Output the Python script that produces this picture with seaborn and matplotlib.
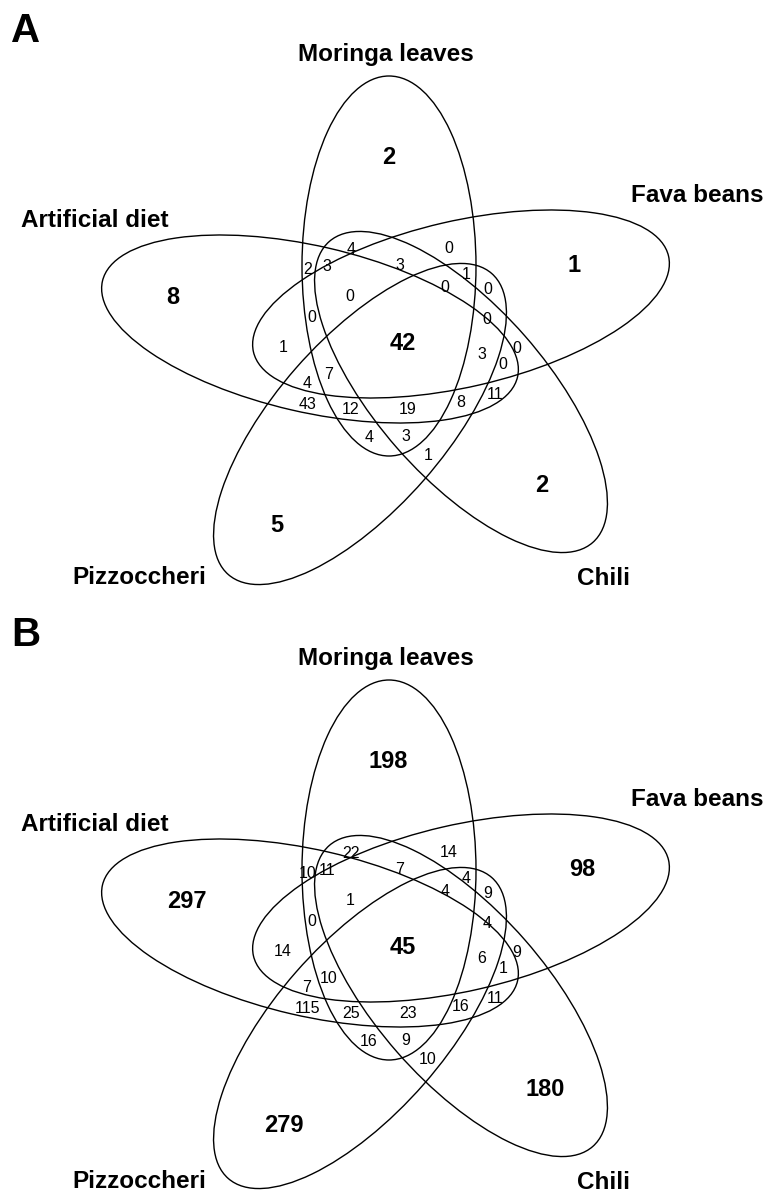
import numpy as np
import pandas as pd
import matplotlib
matplotlib.use("Agg")
import matplotlib.pyplot as plt
import seaborn as sns
from matplotlib.patches import Ellipse

sets = ["Moringa leaves", "Fava beans", "Chili", "Pizzoccheri", "Artificial diet"]

# counts unique to each set
only_a = [2, 1, 2, 5, 8]
only_b = [198, 98, 180, 279, 297]
# shared by all five
core_a = 42
core_b = 45
# the other overlaps, read top to bottom
shared_a = [4, 0, 2, 3, 3, 1, 0, 0, 0, 0, 0, 1, 3, 0, 0, 4, 7, 43, 12, 19, 8, 11, 4, 3, 1]
shared_b = [22, 14, 10, 11, 7, 4, 4, 9, 1, 0, 4, 14, 6, 9, 1, 7, 10, 115, 25, 23, 16, 11, 16, 9, 10]

# ---- layout (pixels, panel A; panel B is shifted down) ----
dy_b = 604
shapes = [(389, 266, 174, 380, 0),
          (461, 304, 426, 166, -13),
          (461, 392, 400, 170, 48.8),
          (360, 424, 400, 170, -48.8),
          (310, 329, 426, 166, 13)]
name_xy = [(386, 52), (697, 193), (603, 576), (139, 575), (95, 218)]
only_xy_a = [(389, 155), (574, 264), (542, 484), (277, 523), (173, 295)]
only_xy_b = [(388, 155), (582, 264), (545, 483), (284, 519), (187, 296)]
core_xy = (403, 342)
shared_xy = [(351, 248), (449, 247), (308, 268), (327, 265), (400, 264),
             (466, 273), (445, 286), (488, 288), (350, 295), (312, 316),
             (487, 318), (283, 346), (482, 353), (517, 347), (503, 363),
             (307, 382), (329, 373), (308, 403), (351, 408), (408, 408),
             (461, 401), (495, 393), (369, 436), (406, 435), (428, 454)]

sns.set_theme(style="white")
plt.rcParams["font.family"] = ["Liberation Sans", "DejaVu Sans"]

fig = plt.figure(figsize=(7.68, 11.92), dpi=100)
ax = fig.add_axes([0, 0, 1, 1])
ax.set_xlim(0, 768)
ax.set_ylim(1192, 0)
ax.axis("off")


def put(x, y, s, size, bold=False, ha="center"):
    # y is the visual middle of the digits / capitals
    px = size * 100 / 72
    ax.text(x, y + 0.36 * px, s, fontsize=size, ha=ha, va="baseline",
            fontweight="bold" if bold else "normal", color="black")


panels = [("A", 0, only_a, core_a, shared_a, only_xy_a),
          ("B", dy_b, only_b, core_b, shared_b, only_xy_b)]

for letter, off, only, core, shared, oxy in panels:
    for cx, cy, w, h, ang in shapes:
        ax.add_patch(Ellipse((cx, cy + off), w, h, angle=ang, fill=False,
                             edgecolor="black", lw=1.0))
    put(11, 28 + off, letter, 29, bold=True, ha="left")
    for name, (x, y) in zip(sets, name_xy):
        put(x, y + off, name, 17.5, bold=True)
    for v, (x, y) in zip(only, oxy):
        put(x, y + off, str(v), 17, bold=True)
    put(core_xy[0], core_xy[1] + off, str(core), 17, bold=True)
    for v, (x, y) in zip(shared, shared_xy):
        put(x, y + off, str(v), 11.5)

sns.despine(left=True, bottom=True)
fig.savefig("out.png", dpi=100)
